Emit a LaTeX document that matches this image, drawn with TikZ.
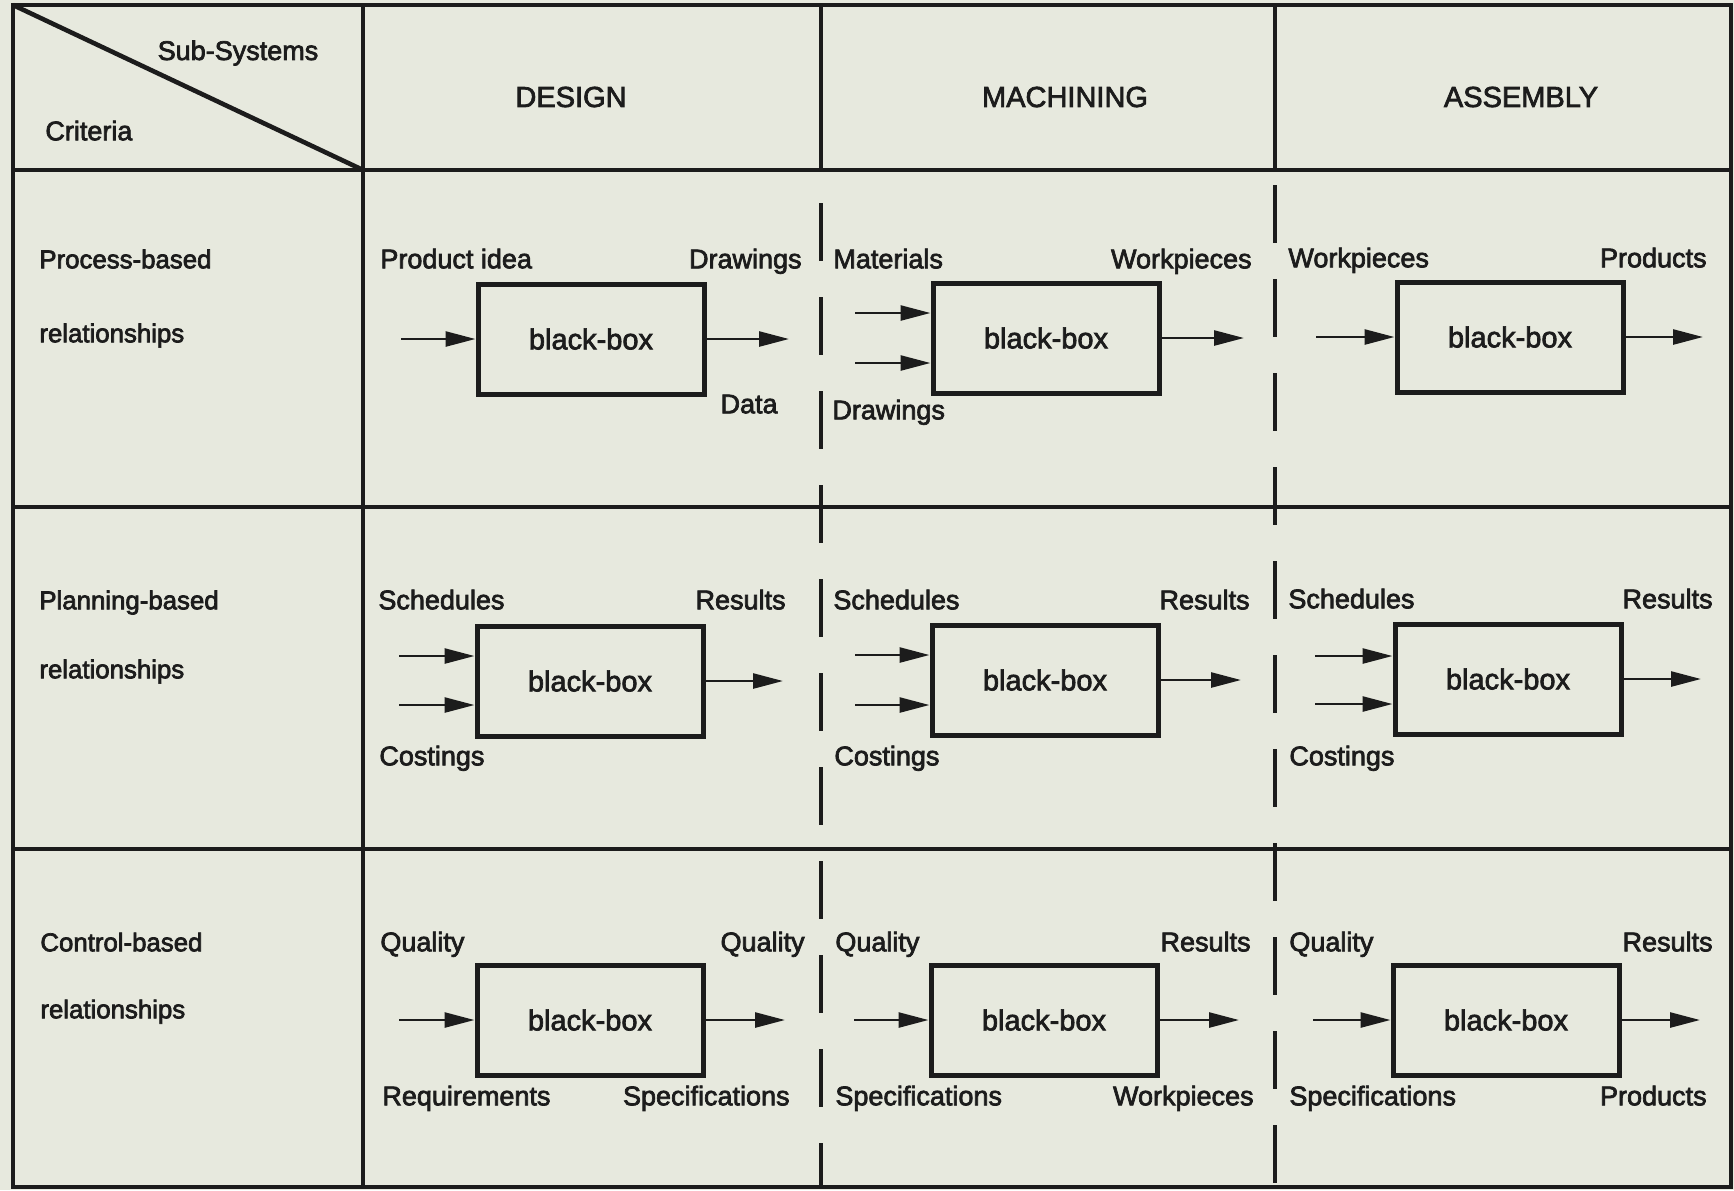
\documentclass[tikz,border=0pt]{standalone}
\usepackage{fontspec}
\setmainfont{Liberation Sans}
\usetikzlibrary{arrows.meta}
\definecolor{paper}{RGB}{231,233,222}
\definecolor{ink}{RGB}{28,28,28}
\newcommand\inkon{\special{pdf:literal direct 2 Tr 0.35 w}}
\newcommand\inkoff{\special{pdf:literal direct 0 Tr}}

\begin{document}
\begin{tikzpicture}[x=0.5pt,y=-0.5pt,
    heavy/.style={execute at begin node=\inkon,execute at end node=\inkoff},
    bbox/.style={heavy,draw=ink,line width=2.5pt,minimum width=113pt,minimum height=55pt,inner sep=0pt,text=ink,font=\fontsize{14.5}{17}\selectfont},
    flow/.style={draw=ink,line width=1.3pt,-{Triangle[length=15pt,width=7.5pt]}},
    lbl/.style={heavy,inner sep=0pt,text=ink,font=\fontsize{13.5}{16}\selectfont},
    rowlbl/.style={heavy,inner sep=0pt,text=ink,anchor=mid west,font=\fontsize{12.9}{16}\selectfont},
    colhead/.style={heavy,inner sep=0pt,text=ink,font=\fontsize{14.5}{17}\selectfont},
    frameline/.style={draw=ink,line width=2.3pt},
    dashline/.style={draw=ink,line width=1.9pt,dash pattern=on 29pt off 18pt}]
      \useasboundingbox (0,0) rectangle (1734,1190);
      \fill[paper] (0,0) rectangle (1734,1190);
      \draw[frameline] (13,5) rectangle (1731,1187);
      \draw[frameline] (13,170) -- (1731,170);
      \draw[frameline] (13,507) -- (1731,507);
      \draw[frameline] (13,849) -- (1731,849);
      \draw[frameline] (363,5) -- (363,1187);
      \draw[frameline] (821,5) -- (821,170);
      \draw[frameline] (1275,5) -- (1275,170);
      \draw[frameline] (13,5) -- (363,170);
      \draw[dashline,dash phase=30.5pt] (821,170) -- (821,1187);
      \draw[dashline,dash phase=39.5pt] (1275,170) -- (1275,1187);
      \node[lbl] (subsys) at (238,53) {Sub-Systems};
      \node[lbl,anchor=mid west] (crit) at (45,135) {Criteria};
      \node[colhead] (design) at (571,97) {DESIGN};
      \node[colhead] (machining) at (1065,97) {MACHINING};
      \node[colhead] (assembly) at (1521,97) {ASSEMBLY};
      \node[rowlbl] (proc) at (39,263) {Process-based};
      \node[rowlbl] (procrel) at (39,337) {relationships};
      \node[rowlbl] (plan) at (39,604) {Planning-based};
      \node[rowlbl] (planrel) at (39,673) {relationships};
      \node[rowlbl] (ctrl) at (40,946) {Control-based};
      \node[rowlbl] (ctrlrel) at (40,1013) {relationships};
      \node[bbox] (d1) at (591,339) {black-box};
      \node[bbox] (m1) at (1046,338) {black-box};
      \node[bbox] (a1) at (1510,337) {black-box};
      \node[bbox] (d2) at (590,681) {black-box};
      \node[bbox] (m2) at (1045,680) {black-box};
      \node[bbox] (a2) at (1508,679) {black-box};
      \node[bbox] (d3) at (590,1020) {black-box};
      \node[bbox] (m3) at (1044,1020) {black-box};
      \node[bbox] (a3) at (1506,1020) {black-box};
      \coordinate (d1in) at (401,339);
      \coordinate (d1out) at (789,339);
      \coordinate (m1in1) at (855,313);
      \coordinate (m1in2) at (855,363);
      \coordinate (m1out) at (1244,338);
      \coordinate (a1in) at (1316,337);
      \coordinate (a1out) at (1703,337);
      \coordinate (d2in1) at (399,656);
      \coordinate (d2in2) at (399,705);
      \coordinate (d2out) at (783,681);
      \coordinate (m2in1) at (855,655);
      \coordinate (m2in2) at (855,705);
      \coordinate (m2out) at (1241,680);
      \coordinate (a2in1) at (1315,656);
      \coordinate (a2in2) at (1315,704);
      \coordinate (a2out) at (1701,679);
      \coordinate (d3in) at (399,1020);
      \coordinate (d3out) at (785,1020);
      \coordinate (m3in) at (854,1020);
      \coordinate (m3out) at (1239,1020);
      \coordinate (a3in) at (1313,1020);
      \coordinate (a3out) at (1700,1020);
      \draw[flow] (d1in) -- (d1in -| d1.west);
      \draw[flow] (d1.east) -- (d1.east -| d1out);
      \draw[flow] (m1in1) -- (m1in1 -| m1.west);
      \draw[flow] (m1in2) -- (m1in2 -| m1.west);
      \draw[flow] (m1.east) -- (m1.east -| m1out);
      \draw[flow] (a1in) -- (a1in -| a1.west);
      \draw[flow] (a1.east) -- (a1.east -| a1out);
      \draw[flow] (d2in1) -- (d2in1 -| d2.west);
      \draw[flow] (d2in2) -- (d2in2 -| d2.west);
      \draw[flow] (d2.east) -- (d2.east -| d2out);
      \draw[flow] (m2in1) -- (m2in1 -| m2.west);
      \draw[flow] (m2in2) -- (m2in2 -| m2.west);
      \draw[flow] (m2.east) -- (m2.east -| m2out);
      \draw[flow] (a2in1) -- (a2in1 -| a2.west);
      \draw[flow] (a2in2) -- (a2in2 -| a2.west);
      \draw[flow] (a2.east) -- (a2.east -| a2out);
      \draw[flow] (d3in) -- (d3in -| d3.west);
      \draw[flow] (d3.east) -- (d3.east -| d3out);
      \draw[flow] (m3in) -- (m3in -| m3.west);
      \draw[flow] (m3.east) -- (m3.east -| m3out);
      \draw[flow] (a3in) -- (a3in -| a3.west);
      \draw[flow] (a3.east) -- (a3.east -| a3out);
      \node[lbl,anchor=mid west] (d1a) at (380,263) {Product idea};
      \node[lbl,anchor=mid east] (d1b) at (802,263) {Drawings};
      \node[lbl,anchor=mid east] (d1c) at (778,408) {Data};
      \node[lbl,anchor=mid west] (m1a) at (833,263) {Materials};
      \node[lbl,anchor=mid east] (m1b) at (1252,263) {Workpieces};
      \node[lbl,anchor=mid west] (m1c) at (832,414) {Drawings};
      \node[lbl,anchor=mid west] (a1a) at (1288,262) {Workpieces};
      \node[lbl,anchor=mid east] (a1b) at (1707,262) {Products};
      \node[lbl,anchor=mid west] (d2a) at (378,604) {Schedules};
      \node[lbl,anchor=mid east] (d2b) at (786,604) {Results};
      \node[lbl,anchor=mid west] (d2c) at (379,760) {Costings};
      \node[lbl,anchor=mid west] (m2a) at (833,604) {Schedules};
      \node[lbl,anchor=mid east] (m2b) at (1250,604) {Results};
      \node[lbl,anchor=mid west] (m2c) at (834,760) {Costings};
      \node[lbl,anchor=mid west] (a2a) at (1288,603) {Schedules};
      \node[lbl,anchor=mid east] (a2b) at (1713,603) {Results};
      \node[lbl,anchor=mid west] (a2c) at (1289,760) {Costings};
      \node[lbl,anchor=mid west] (d3a) at (380,946) {Quality};
      \node[lbl,anchor=mid east] (d3b) at (805,946) {Quality};
      \node[lbl,anchor=mid west] (d3c) at (382,1100) {Requirements};
      \node[lbl,anchor=mid east] (d3d) at (790,1100) {Specifications};
      \node[lbl,anchor=mid west] (m3a) at (835,946) {Quality};
      \node[lbl,anchor=mid east] (m3b) at (1251,946) {Results};
      \node[lbl,anchor=mid west] (m3c) at (835,1100) {Specifications};
      \node[lbl,anchor=mid east] (m3d) at (1254,1100) {Workpieces};
      \node[lbl,anchor=mid west] (a3a) at (1289,946) {Quality};
      \node[lbl,anchor=mid east] (a3b) at (1713,946) {Results};
      \node[lbl,anchor=mid west] (a3c) at (1289,1100) {Specifications};
      \node[lbl,anchor=mid east] (a3d) at (1707,1100) {Products};
    \end{tikzpicture}
\end{document}
